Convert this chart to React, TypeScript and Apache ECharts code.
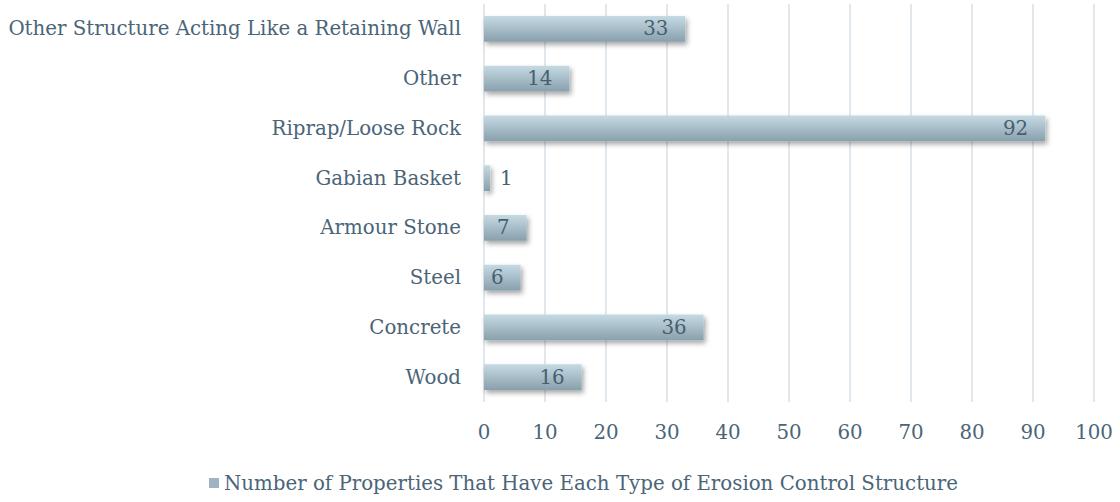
import React, { useEffect, useRef } from "react";
import * as echarts from "echarts";

const categories = [
  "Wood",
  "Concrete",
  "Steel",
  "Armour Stone",
  "Gabian Basket",
  "Riprap/Loose Rock",
  "Other",
  "Other Structure Acting Like a Retaining Wall",
];
const values = [16, 36, 6, 7, 1, 92, 14, 33];
const seriesName = "Number of Properties That Have Each Type of Erosion Control Structure";
const xTicks = { min: 0, max: 100, interval: 10 };

const FONT = "DejaVu Serif";
const TEXT = "#4a6578";

export default function App() {
  const ref = useRef<HTMLDivElement>(null);
  useEffect(() => {
    if (!ref.current) return;
    const chart = echarts.init(ref.current, null, { renderer: "svg" });
    const grad = new echarts.graphic.LinearGradient(0, 0, 0, 1, [
      { offset: 0, color: "#c6dae3" },
      { offset: 1, color: "#88a0ad" },
    ]);
    chart.setOption({
      animation: false,
      textStyle: { fontFamily: FONT },
      grid: { left: 484, right: 26, top: 4, bottom: 100, containLabel: false },
      legend: {
        bottom: 4,
        left: 204,
        itemWidth: 10,
        itemHeight: 10,
        itemGap: 4,
        icon: "rect",
        textStyle: { fontFamily: FONT, fontSize: 19.8, color: TEXT },
        data: [{ name: seriesName, itemStyle: { color: "#9fb4c0" } }],
      },
      xAxis: {
        type: "value",
        min: xTicks.min,
        max: xTicks.max,
        interval: xTicks.interval,
        axisLine: { show: false },
        axisTick: { show: false },
        splitLine: { lineStyle: { color: "#e1e8ed", width: 2 } },
        axisLabel: { fontFamily: FONT, fontSize: 19.8, color: TEXT, margin: 20 },
      },
      yAxis: {
        type: "category",
        data: categories,
        axisLine: { show: false },
        axisTick: { show: false },
        splitLine: { show: false },
        axisLabel: { fontFamily: FONT, fontSize: 19.8, color: TEXT, margin: 23 },
      },
      series: [
        {
          name: seriesName,
          type: "bar",
          barWidth: "52%",
          data: values.map((v) => ({
            value: v,
            label: v < 3 ? { position: "right", distance: 10 } : {},
          })),
          itemStyle: {
            color: grad,
            shadowColor: "rgba(0,0,0,0.35)",
            shadowBlur: 5,
            shadowOffsetX: 2,
            shadowOffsetY: 3,
          },
          label: {
            show: true,
            position: "insideRight",
            distance: 17,
            fontFamily: FONT,
            fontSize: 19.8,
            color: "#46606f",
          },
        },
      ],
    });
    return () => chart.dispose();
  }, []);
  return (
    <div
      ref={ref}
      style={{ position: "fixed", left: 0, top: 0, width: 1120, height: 502, background: "#fff" }}
    />
  );
}
